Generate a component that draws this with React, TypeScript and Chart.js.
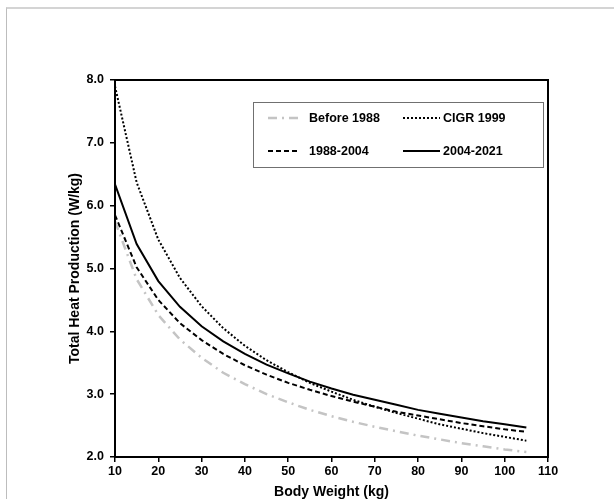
import React, { useEffect, useRef } from "react";
import { Chart, registerables } from "chart.js";

Chart.register(...registerables);

// ---- data ----
const bodyWeight = [10, 15, 20, 25, 30, 35, 40, 45, 50, 55, 60, 65, 70, 75, 80, 85, 90, 95, 100, 105];
const before1988 = [5.75, 4.83, 4.26, 3.87, 3.58, 3.34, 3.16, 3.0, 2.87, 2.75, 2.65, 2.56, 2.48, 2.41, 2.34, 2.28, 2.22, 2.17, 2.12, 2.08];
const cigr1999 = [7.9, 6.37, 5.46, 4.85, 4.4, 4.05, 3.77, 3.54, 3.35, 3.18, 3.04, 2.91, 2.8, 2.7, 2.61, 2.52, 2.45, 2.38, 2.32, 2.26];
const period1988to2004 = [5.85, 5.02, 4.5, 4.13, 3.86, 3.64, 3.46, 3.31, 3.18, 3.07, 2.97, 2.88, 2.8, 2.72, 2.66, 2.6, 2.54, 2.49, 2.44, 2.4];
const period2004to2021 = [6.34, 5.39, 4.8, 4.39, 4.08, 3.84, 3.64, 3.47, 3.33, 3.2, 3.09, 2.99, 2.91, 2.83, 2.75, 2.69, 2.63, 2.57, 2.52, 2.47];
const seriesLabels = ["Before 1988", "CIGR 1999", "1988-2004", "2004-2021"];
const xAxisTitle = "Body Weight (kg)";
const yAxisTitle = "Total Heat Production (W/kg)";
const xMin = 10, xMax = 110, xStep = 10;
const yMin = 2, yMax = 8, yStep = 1;

const FONT = '"Liberation Sans", Arial, Helvetica, sans-serif';

const framePlugin = {
  id: "frame",
  afterDraw(chart: any) {
    const { ctx, chartArea } = chart;
    ctx.save();
    ctx.strokeStyle = "#000";
    ctx.lineWidth = 2;
    ctx.strokeRect(chartArea.left, chartArea.top, chartArea.right - chartArea.left, chartArea.bottom - chartArea.top);
    ctx.restore();
  },
};

const legendBoxPlugin = {
  id: "legendBox",
  afterDraw(chart: any) {
    const { ctx, chartArea } = chart;
    const w = 290, h = 65;
    const x0 = chartArea.right - 5 - w;
    const y0 = chartArea.top + 22;
    ctx.save();
    ctx.fillStyle = "#fff";
    ctx.fillRect(x0, y0, w, h);
    ctx.strokeStyle = "#707070";
    ctx.lineWidth = 1;
    ctx.strokeRect(x0 + 0.5, y0 + 0.5, w, h);
    const cols = [
      { s: 15, e: 45, t: 56 },
      { s: 150, e: 187, t: 190 },
    ];
    const rows = [16, 49];
    chart.data.datasets.forEach((ds: any, i: number) => {
      const c = cols[i % 2];
      const y = y0 + rows[Math.floor(i / 2)];
      ctx.beginPath();
      ctx.setLineDash(ds.borderDash || []);
      ctx.strokeStyle = ds.borderColor;
      ctx.lineWidth = ds.borderWidth;
      ctx.moveTo(x0 + c.s, y);
      ctx.lineTo(x0 + c.e, y);
      ctx.stroke();
      ctx.setLineDash([]);
      ctx.fillStyle = "#000";
      ctx.font = `bold 12.5px ${FONT}`;
      ctx.textBaseline = "middle";
      ctx.textAlign = "left";
      ctx.fillText(ds.label, x0 + c.t, y + 0.5);
    });
    ctx.restore();
  },
};

export default function App() {
  const canvasRef = useRef<HTMLCanvasElement | null>(null);

  useEffect(() => {
    const canvas = canvasRef.current;
    if (!canvas) return;
    const toPts = (vals: number[]) => vals.map((v, i) => ({ x: bodyWeight[i], y: v }));
    const chart = new Chart(canvas, {
      type: "line",
      data: {
        datasets: [
          {
            label: seriesLabels[0],
            data: toPts(before1988),
            borderColor: "#c4c4c4",
            borderWidth: 2.5,
            borderDash: [9, 5, 2, 5],
            pointRadius: 0,
            fill: false,
            tension: 0,
          },
          {
            label: seriesLabels[1],
            data: toPts(cigr1999),
            borderColor: "#000",
            borderWidth: 2,
            borderDash: [2, 2],
            pointRadius: 0,
            fill: false,
            tension: 0,
          },
          {
            label: seriesLabels[2],
            data: toPts(period1988to2004),
            borderColor: "#000",
            borderWidth: 2,
            borderDash: [5, 3],
            pointRadius: 0,
            fill: false,
            tension: 0,
          },
          {
            label: seriesLabels[3],
            data: toPts(period2004to2021),
            borderColor: "#000",
            borderWidth: 2,
            borderDash: [],
            pointRadius: 0,
            fill: false,
            tension: 0,
          },
        ],
      },
      options: {
        responsive: false,
        animation: false,
        devicePixelRatio: 1,
        layout: { padding: { top: 80, right: 66, left: 0, bottom: 0 } },
        plugins: {
          legend: { display: false },
          tooltip: { enabled: false },
        },
        scales: {
          x: {
            type: "linear",
            min: xMin,
            max: xMax,
            afterFit: (scale: any) => {
              scale.height = 42;
            },
            ticks: {
              stepSize: xStep,
              color: "#000",
              padding: 2,
              maxRotation: 0,
              font: { family: FONT, size: 12.5, weight: "bold" },
            },
            grid: {
              drawOnChartArea: false,
              drawTicks: true,
              tickLength: 5,
              color: "#000",
              lineWidth: 1.5,
            },
            border: { display: true, color: "#000", width: 2 },
            title: {
              display: true,
              text: xAxisTitle,
              color: "#000",
              font: { family: FONT, size: 14, weight: "bold", lineHeight: 1 },
              padding: { top: 0, bottom: 0 },
            },
          },
          y: {
            type: "linear",
            min: yMin,
            max: yMax,
            afterFit: (scale: any) => {
              scale.width = 115;
            },
            ticks: {
              stepSize: yStep,
              color: "#000",
              padding: 6,
              font: { family: FONT, size: 12.5, weight: "bold" },
              callback: (v: any) => Number(v).toFixed(1),
            },
            grid: {
              drawOnChartArea: false,
              drawTicks: true,
              tickLength: 5,
              color: "#000",
              lineWidth: 1.5,
            },
            border: { display: true, color: "#000", width: 2 },
            title: {
              display: true,
              text: yAxisTitle,
              color: "#000",
              font: { family: FONT, size: 14, weight: "bold", lineHeight: 1 },
              padding: { top: 68, bottom: 0 },
            },
          },
        },
      },
      plugins: [framePlugin, legendBoxPlugin],
    } as any);
    return () => chart.destroy();
  }, []);

  return (
    <div
      style={{
        position: "absolute",
        left: 0,
        top: 0,
        width: 614,
        height: 499,
        overflow: "hidden",
        background: "#fff",
      }}
    >
      <div
        style={{
          position: "absolute",
          left: 6,
          top: 7,
          width: 700,
          height: 600,
          borderTop: "2px solid #d4d4d4",
          borderLeft: "1px solid #bdbdbd",
        }}
      />
      <canvas
        ref={canvasRef}
        width={614}
        height={499}
        style={{ position: "absolute", left: 0, top: 0, width: 614, height: 499 }}
      />
    </div>
  );
}
